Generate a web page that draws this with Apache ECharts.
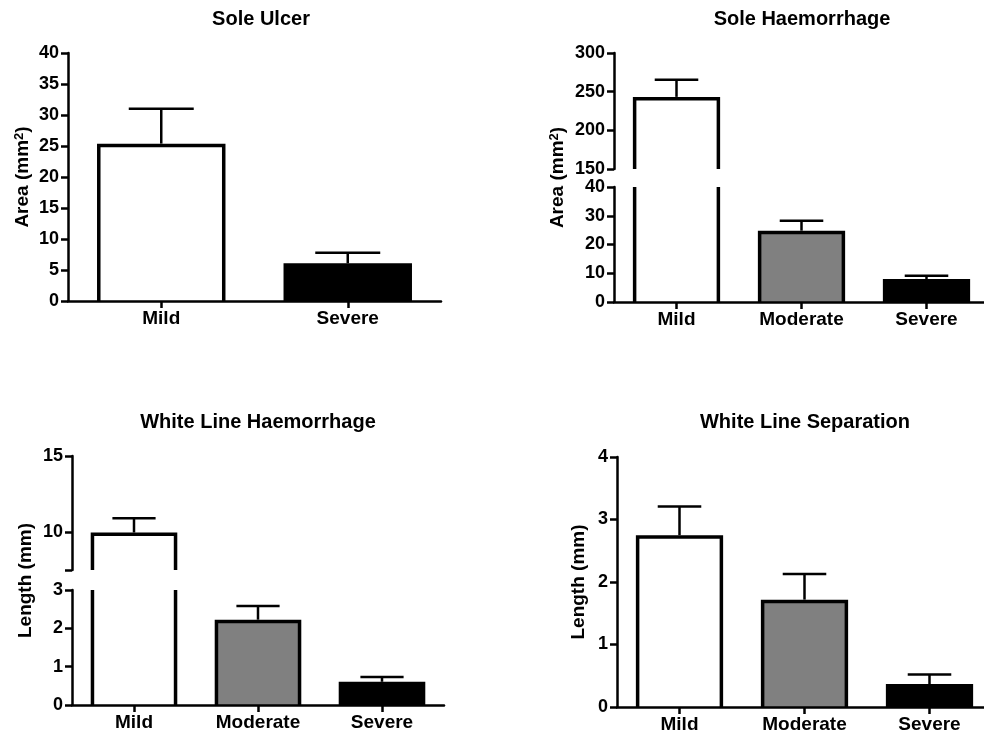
<!DOCTYPE html>
<html>
<head>
<meta charset="utf-8">
<script src="https://cdn.jsdelivr.net/npm/echarts@6/dist/echarts.min.js"></script>
<style>
  html, body { margin: 0; padding: 0; background: #fff; }
  #chart { width: 984px; height: 740px; }
</style>
</head>
<body>
<div id="chart"></div>
<script>
// values: bar = mean, whisker = SEM (upper only)
const ulcerCategories = ['Mild', 'Severe'];
const ulcerMean = [25.1, 5.8];
const ulcerSem = [5.9, 2.0];
const ulcerTicks = [0, 5, 10, 15, 20, 25, 30, 35, 40];

const soleHaemCategories = ['Mild', 'Moderate', 'Severe'];
const soleHaemMean = [241, 24.2, 7.4];
const soleHaemSem = [24.5, 4.1, 1.7];
const soleHaemUpperTicks = [150, 200, 250, 300];
const soleHaemLowerTicks = [0, 10, 20, 30, 40];

const wlHaemCategories = ['Mild', 'Moderate', 'Severe'];
const wlHaemMean = [9.85, 2.18, 0.56];
const wlHaemSem = [1.05, 0.40, 0.17];
const wlHaemUpperTicks = [7.5, 10, 15]; // bottom end of the upper segment has no label
const wlHaemUpperLabels = [10, 15];
const wlHaemLowerTicks = [0, 1, 2, 3];

const wlSepCategories = ['Mild', 'Moderate', 'Severe'];
const wlSepMean = [2.72, 1.69, 0.34];
const wlSepSem = [0.49, 0.44, 0.18];
const wlSepTicks = [0, 1, 2, 3, 4];

// styles
const FONT = "'Liberation Sans', Arial, sans-serif";
const FILL2 = ['#ffffff', '#000000'];
const FILL3 = ['#ffffff', '#808080', '#000000'];
const BAR_RATIO = 0.67;
const CAP_RATIO = 0.52;
const AXIS_W = 2.5;
const BAR_W = 3.5;
const ERR_W = 2.5;

const option = {
  animation: false,
  backgroundColor: '#fff',
  title: [],
  grid: [],
  xAxis: [],
  yAxis: [],
  series: [],
};

function makeBarRenderer(fills) {
  return function(params, api) {
    const idx = api.value(0);
    const val = api.value(1);
    const cs = params.coordSys;
    const yMin = cs.y;
    const yMax = cs.y + cs.height;
    const top = api.coord([idx, val]);
    const base = api.coord([idx, 0]);
    if (top[1] >= yMax) return null;
    const w = api.size([1, 0])[0] * BAR_RATIO;
    const x0 = top[0] - w / 2;
    const x1 = top[0] + w / 2;
    const yTop = Math.max(top[1], yMin);
    const yBase = Math.min(base[1], yMax);
    const line = {stroke: '#000', lineWidth: BAR_W, fill: null, lineJoin: 'miter', lineCap: 'butt'};
    const children = [{
      type: 'rect',
      shape: {x: x0, y: yTop, width: w, height: yBase - yTop},
      style: {fill: fills[idx]},
    }];
    if (top[1] < yMin) {
      // bar runs through the axis break: only its sides are drawn
      children.push({type: 'line', shape: {x1: x0, y1: yTop, x2: x0, y2: yBase}, style: line});
      children.push({type: 'line', shape: {x1: x1, y1: yTop, x2: x1, y2: yBase}, style: line});
    } else {
      children.push({
        type: 'polyline',
        shape: {points: [[x0, yBase], [x0, yTop], [x1, yTop], [x1, yBase]]},
        style: line,
      });
    }
    return {type: 'group', children: children};
  };
}

function renderError(params, api) {
  const idx = api.value(0);
  const val = api.value(1);
  const err = api.value(2);
  const cs = params.coordSys;
  const p0 = api.coord([idx, val]);
  const p1 = api.coord([idx, val + err]);
  if (p0[1] < cs.y || p0[1] > cs.y + cs.height) return null;
  const half = api.size([1, 0])[0] * BAR_RATIO * CAP_RATIO / 2;
  const st = {stroke: '#000', lineWidth: ERR_W};
  return {
    type: 'group',
    children: [
      {type: 'line', shape: {x1: p0[0], y1: p0[1] - BAR_W / 2, x2: p1[0], y2: p1[1]}, style: st},
      {type: 'line', shape: {x1: p1[0] - half, y1: p1[1], x2: p1[0] + half, y2: p1[1]}, style: st},
    ],
  };
}

const axisLine = {show: true, lineStyle: {color: '#000', width: AXIS_W}};
const axisTick = {show: true, inside: false, length: 7, lineStyle: {color: '#000', width: AXIS_W}};
const labelStyle = {color: '#000', fontFamily: FONT, fontWeight: 'bold'};

/**
 * addPanel
 * @param {object} p - one sub-figure: title, data and the box of each axis segment
 */
function addPanel(p) {
  option.title.push({
    text: p.title,
    left: p.titleX,
    top: p.titleY,
    textAlign: 'center',
    padding: 0,
    textStyle: {color: '#000', fontFamily: FONT, fontWeight: 'bold', fontSize: 20},
  });

  const data = p.mean.map((v, i) => [i, v]);
  const errData = p.mean.map((v, i) => [i, v, p.sem[i]]);

  p.segments.forEach((s, k) => {
    const gi = option.grid.length;
    const last = k === p.segments.length - 1;
    option.grid.push({left: p.left, top: s.top, width: p.width, height: s.height,
      containLabel: false, outerBoundsMode: 'none'});
    option.xAxis.push({
      gridIndex: gi,
      type: 'category',
      data: p.categories,
      show: last,
      z: 5,
      axisLine: axisLine,
      axisTick: Object.assign({alignWithLabel: true}, axisTick),
      axisLabel: Object.assign({fontSize: 19, margin: 8}, labelStyle),
      splitLine: {show: false},
    });
    const ticks = s.ticks;
    const y = {
      gridIndex: gi,
      type: 'value',
      min: ticks[0],
      max: ticks[ticks.length - 1],
      z: 5,
      axisLine: axisLine,
      axisTick: Object.assign({}, axisTick),
      axisLabel: Object.assign({fontSize: 18, margin: 9}, labelStyle),
      splitLine: {show: false},
    };
    if (s.labels) {
      y.axisTick.customValues = ticks;
      y.axisLabel.customValues = s.labels;
    } else {
      y.interval = ticks[1] - ticks[0];
    }
    option.yAxis.push(y);
    option.series.push({
      type: 'custom',
      xAxisIndex: gi,
      yAxisIndex: gi,
      z: 2,
      renderItem: makeBarRenderer(p.fills),
      data: data,
    });
    option.series.push({
      type: 'custom',
      xAxisIndex: gi,
      yAxisIndex: gi,
      z: 3,
      renderItem: renderError,
      data: errData,
    });
  });

  // an empty axis spanning all segments, used only to carry the axis name
  const first = p.segments[0];
  const end = p.segments[p.segments.length - 1];
  const ni = option.grid.length;
  option.grid.push({left: p.left, top: first.top, width: p.width,
    height: end.top + end.height - first.top, containLabel: false, outerBoundsMode: 'none'});
  option.xAxis.push({gridIndex: ni, type: 'category', show: false, data: p.categories});
  option.yAxis.push({
    gridIndex: ni,
    type: 'value',
    min: 0,
    max: 1,
    axisLine: {show: false},
    axisTick: {show: false},
    axisLabel: {show: false},
    splitLine: {show: false},
    name: p.yName,
    nameLocation: 'middle',
    nameGap: p.nameGap,
    nameTextStyle: Object.assign({
      fontSize: 19,
      rich: {
        sup: {fontSize: 13, fontWeight: 'bold', fontFamily: FONT, color: '#000', verticalAlign: 'top'},
      },
    }, labelStyle),
  });
}

addPanel({
  title: 'Sole Ulcer', titleX: 261, titleY: 9,
  categories: ulcerCategories, mean: ulcerMean, sem: ulcerSem, fills: FILL2,
  left: 68, width: 373,
  segments: [{top: 53, height: 248, ticks: ulcerTicks}],
  yName: 'Area (mm{sup|2})', nameGap: 36,
});

addPanel({
  title: 'Sole Haemorrhage', titleX: 802, titleY: 9,
  categories: soleHaemCategories, mean: soleHaemMean, sem: soleHaemSem, fills: FILL3,
  left: 614, width: 375,
  segments: [
    {top: 53, height: 116, ticks: soleHaemUpperTicks},
    {top: 187, height: 115, ticks: soleHaemLowerTicks},
  ],
  yName: 'Area (mm{sup|2})', nameGap: 47,
});

addPanel({
  title: 'White Line Haemorrhage', titleX: 258, titleY: 412,
  categories: wlHaemCategories, mean: wlHaemMean, sem: wlHaemSem, fills: FILL3,
  left: 72, width: 372,
  segments: [
    {top: 456, height: 114, ticks: wlHaemUpperTicks, labels: wlHaemUpperLabels},
    {top: 590, height: 115, ticks: wlHaemLowerTicks},
  ],
  yName: 'Length (mm)', nameGap: 37,
});

addPanel({
  title: 'White Line Separation', titleX: 805, titleY: 412,
  categories: wlSepCategories, mean: wlSepMean, sem: wlSepSem, fills: FILL3,
  left: 617, width: 375,
  segments: [{top: 457, height: 250, ticks: wlSepTicks}],
  yName: 'Length (mm)', nameGap: 29,
});

const chart = echarts.init(document.getElementById('chart'));
chart.setOption(option);
</script>
</body>
</html>
